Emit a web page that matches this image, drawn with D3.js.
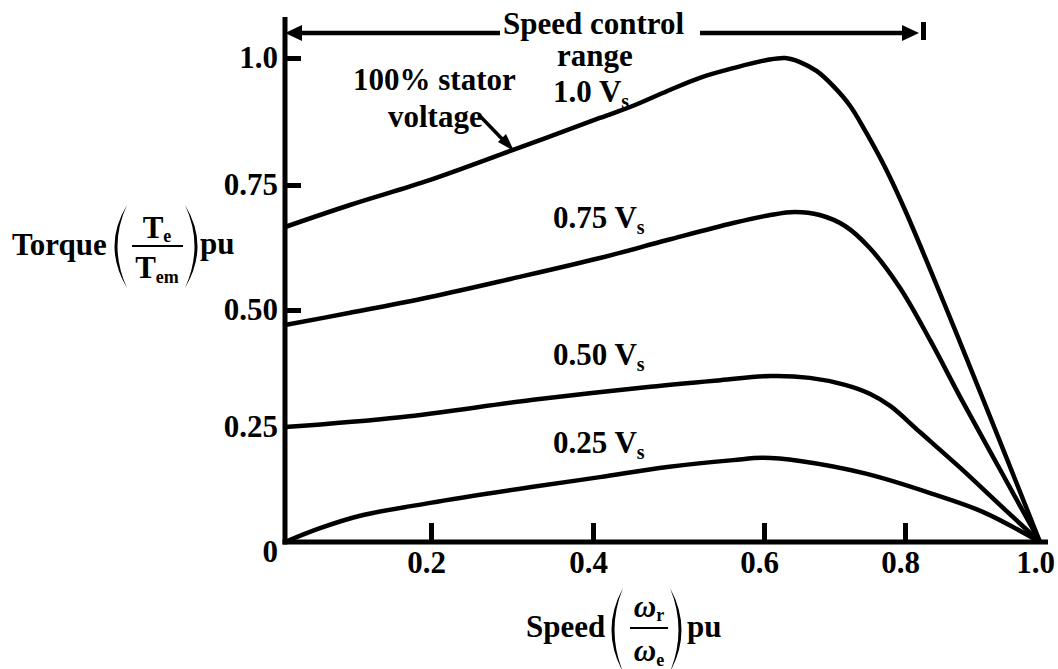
<!DOCTYPE html>
<html><head><meta charset="utf-8">
<script src="https://cdn.jsdelivr.net/npm/d3@7"></script>
<style>
body{margin:0;background:#fff}
svg{display:block}
text{font-family:"Liberation Serif","Times New Roman",serif;font-weight:bold;fill:#000}
</style>
</head><body>
<svg id="chart" width="1058" height="669"></svg>
<script>
// ---- data ----
const xTickValues = [0.2, 0.4, 0.6, 0.8, 1.0];
const xTickLabels = ["0.2", "0.4", "0.6", "0.8", "1.0"];
const yTickValues = [0, 0.25, 0.5, 0.75, 1.0];
const yTickLabels = ["0", "0.25", "0.50", "0.75", "1.0"];
const yTickMarked = [0.5, 0.75, 1.0];
const xTickMarked = [0.2, 0.4, 0.6, 0.8];

const seriesNames = ["1.0", "0.75", "0.50", "0.25"];

const speed100  = [0, 0.089, 0.199, 0.298, 0.408, 0.447, 0.487, 0.525, 0.564, 0.604, 0.630, 0.651, 0.675, 0.698, 0.722, 0.743, 0.772, 0.8, 0.859, 0.916, 1.0];
const torque100 = [0.666, 0.71, 0.76, 0.817, 0.882, 0.906, 0.935, 0.961, 0.980, 0.996, 1.0, 0.992, 0.974, 0.945, 0.906, 0.858, 0.784, 0.70, 0.51, 0.308, 0];

const speed75  = [0, 0.089, 0.199, 0.298, 0.408, 0.487, 0.564, 0.609, 0.644, 0.679, 0.715, 0.750, 0.793, 0.837, 0.884, 0.941, 1.0];
const torque75 = [0.468, 0.494, 0.526, 0.562, 0.604, 0.64, 0.674, 0.69, 0.696, 0.69, 0.668, 0.624, 0.544, 0.436, 0.308, 0.157, 0];

const speed50  = [0, 0.158, 0.326, 0.467, 0.549, 0.609, 0.665, 0.715, 0.750, 0.779, 0.822, 0.882, 0.941, 1.0];
const torque50 = [0.25, 0.271, 0.308, 0.336, 0.350, 0.359, 0.355, 0.340, 0.321, 0.295, 0.239, 0.161, 0.080, 0];

const speed25  = [0, 0.048, 0.103, 0.199, 0.326, 0.408, 0.487, 0.564, 0.599, 0.651, 0.746, 0.842, 0.916, 1.0];
const torque25 = [0, 0.030, 0.057, 0.085, 0.120, 0.141, 0.163, 0.178, 0.183, 0.176, 0.148, 0.104, 0.065, 0];

// ---- drawing ----
const svg = d3.select("#chart");
const x = d3.scaleLinear().domain([0, 0.2, 0.4, 0.6, 0.8, 1.0]).range([285, 431, 593, 764, 905, 1040]);
const y = d3.scaleLinear().domain([0, 0.25, 0.5, 0.75, 1.0]).range([542, 427, 310, 185, 58]);

const AX = 5;
const FS = 31;

// X axis
const gx = svg.append("g").attr("transform", `translate(0,${y(0)})`)
  .call(d3.axisBottom(x).tickValues(xTickValues).tickSizeInner(-19).tickSizeOuter(0).tickPadding(9)
    .tickFormat((d, i) => xTickLabels[i]));
gx.select(".domain").remove();
gx.selectAll(".tick line").attr("stroke", "#000").attr("stroke-width", AX)
  .attr("display", d => xTickMarked.includes(d) ? null : "none");
gx.selectAll(".tick text").attr("font-size", FS).attr("font-family", "Liberation Serif")
  .attr("font-weight", "bold").attr("fill", "#000").attr("dx", -5);

// Y axis
const gy = svg.append("g").attr("transform", `translate(${x(0)},0)`)
  .call(d3.axisLeft(y).tickValues(yTickValues).tickSizeInner(-16).tickSizeOuter(0).tickPadding(7)
    .tickFormat((d, i) => yTickLabels[i]));
gy.select(".domain").remove();
gy.selectAll(".tick line").attr("stroke", "#000").attr("stroke-width", AX)
  .attr("display", d => yTickMarked.includes(d) ? null : "none");
gy.selectAll(".tick text").attr("font-size", FS).attr("font-family", "Liberation Serif")
  .attr("font-weight", "bold").attr("fill", "#000")
  .attr("dy", d => d === 0 ? "0.62em" : "0.32em");

// axis lines
svg.append("line").attr("x1", x(0)).attr("x2", x(0)).attr("y1", 17).attr("y2", y(0) + AX / 2)
  .attr("stroke", "#000").attr("stroke-width", AX);
svg.append("line").attr("x1", x(0) - AX / 2).attr("x2", 1048).attr("y1", y(0)).attr("y2", y(0))
  .attr("stroke", "#000").attr("stroke-width", AX);

// curves
const seriesData = [
  d3.zip(speed100, torque100),
  d3.zip(speed75, torque75),
  d3.zip(speed50, torque50),
  d3.zip(speed25, torque25)
];
const line = d3.line().x(d => x(d[0])).y(d => y(d[1])).curve(d3.curveCatmullRom.alpha(0.5));
svg.append("g").selectAll("path").data(seriesData).join("path")
  .attr("d", line).attr("fill", "none").attr("stroke", "#000")
  .attr("stroke-width", 4.5).attr("stroke-linejoin", "round");

// curve labels
const labelPos = [[553, 102], [553, 228], [553, 365], [553, 453]];
seriesNames.forEach((n, i) => {
  const t = svg.append("text").attr("x", labelPos[i][0]).attr("y", labelPos[i][1]).attr("font-size", FS);
  t.append("tspan").text(n + " V");
  t.append("tspan").attr("font-size", 20).attr("dy", 6).text("s");
});

// speed control range arrows
svg.append("line").attr("x1", 500).attr("x2", 298).attr("y1", 33).attr("y2", 33).attr("stroke", "#000").attr("stroke-width", 4.5);
svg.append("path").attr("d", "M285,33L302,25L302,41Z").attr("fill", "#000");
svg.append("line").attr("x1", 700).attr("x2", 905).attr("y1", 33).attr("y2", 33).attr("stroke", "#000").attr("stroke-width", 4.5);
svg.append("path").attr("d", "M919,33L902,25L902,41Z").attr("fill", "#000");
svg.append("rect").attr("x", 921).attr("y", 22).attr("width", 5).attr("height", 18).attr("fill", "#000");
svg.append("text").attr("x", 503).attr("y", 34).attr("font-size", FS).text("Speed control");
svg.append("text").attr("x", 595).attr("y", 66).attr("font-size", FS).attr("text-anchor", "middle").text("range");

// 100% stator voltage annotation
svg.append("text").attr("x", 353).attr("y", 90).attr("font-size", FS).text("100% stator");
svg.append("text").attr("x", 388).attr("y", 127).attr("font-size", FS).text("voltage");
svg.append("line").attr("x1", 479).attr("y1", 115).attr("x2", 506).attr("y2", 143).attr("stroke", "#000").attr("stroke-width", 3.5);
svg.append("path").attr("d", "M514,151L498,142L506,134Z").attr("fill", "#000");

// Y axis title: Torque (Te/Tem) pu
svg.append("text").attr("x", 12).attr("y", 255).attr("font-size", FS).text("Torque");
svg.append("path").attr("d", "M127,205Q102,246 127,288Q108,246 127,205Z").attr("fill", "#000");
svg.append("path").attr("d", "M185,205Q210,246 185,288Q204,246 185,205Z").attr("fill", "#000");
const te = svg.append("text").attr("x", 157).attr("y", 238).attr("font-size", FS).attr("text-anchor", "middle");
te.append("tspan").text("T"); te.append("tspan").attr("font-size", 18).attr("dy", 4).text("e");
svg.append("line").attr("x1", 132).attr("x2", 183).attr("y1", 246).attr("y2", 246).attr("stroke", "#000").attr("stroke-width", 2);
const tem = svg.append("text").attr("x", 157).attr("y", 278).attr("font-size", FS).attr("text-anchor", "middle");
tem.append("tspan").text("T"); tem.append("tspan").attr("font-size", 18).attr("dy", 5).text("em");
svg.append("text").attr("x", 200).attr("y", 254).attr("font-size", FS).text("pu");

// X axis title: Speed (ωr/ωe) pu
svg.append("text").attr("x", 526).attr("y", 637).attr("font-size", FS).text("Speed");
svg.append("path").attr("d", "M623,588Q600,630 623,672Q606,630 623,588Z").attr("fill", "#000");
svg.append("path").attr("d", "M670,588Q693,630 670,672Q687,630 670,588Z").attr("fill", "#000");
const wr = svg.append("text").attr("x", 649).attr("y", 617).attr("font-size", FS).attr("text-anchor", "middle");
wr.append("tspan").attr("font-style", "italic").text("ω"); wr.append("tspan").attr("font-size", 18).attr("dy", 4).text("r");
svg.append("line").attr("x1", 630).attr("x2", 668).attr("y1", 628).attr("y2", 628).attr("stroke", "#000").attr("stroke-width", 2);
const we = svg.append("text").attr("x", 649).attr("y", 661).attr("font-size", FS).attr("text-anchor", "middle");
we.append("tspan").attr("font-style", "italic").text("ω"); we.append("tspan").attr("font-size", 18).attr("dy", 5).text("e");
svg.append("text").attr("x", 687).attr("y", 637).attr("font-size", FS).text("pu");
</script>
</body></html>
